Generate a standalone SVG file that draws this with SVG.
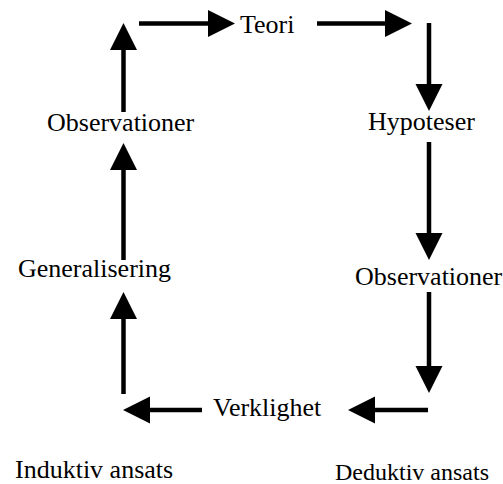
<svg xmlns="http://www.w3.org/2000/svg" width="503" height="484" viewBox="0 0 503 484">
  <style>
    .lbl { font-family: "Liberation Serif", "Times New Roman", serif; font-size: 26px; fill: #000; }
    .cap { font-family: "Liberation Serif", "Times New Roman", serif; fill: #000; }
    .arr { stroke: #000; stroke-width: 4.5; fill: none; marker-end: url(#head); }
  </style>
  <defs>
    <!-- solid triangular head; its base sits on the line end -->
    <marker id="head" markerUnits="userSpaceOnUse" markerWidth="28" markerHeight="28" refX="0" refY="13.5" orient="auto">
      <path d="M0,0 L27,13.5 L0,27 Z" fill="#000"/>
    </marker>
  </defs>
  <rect width="503" height="484" fill="#fff"/>

  <g id="connectors">
    <!-- left column, upward -->
    <line class="arr" x1="123.5" y1="394" x2="123.5" y2="319"/>
    <line class="arr" x1="123.5" y1="260" x2="123.5" y2="170"/>
    <line class="arr" x1="123.5" y1="112" x2="123.5" y2="50"/>
    <!-- top row, rightward -->
    <line class="arr" x1="139" y1="23.5" x2="208" y2="23.5"/>
    <line class="arr" x1="317" y1="23.5" x2="385" y2="23.5"/>
    <!-- right column, downward -->
    <line class="arr" x1="429" y1="23" x2="429" y2="84"/>
    <line class="arr" x1="429" y1="142" x2="429" y2="233"/>
    <line class="arr" x1="429" y1="292" x2="429" y2="366"/>
    <!-- bottom row, leftward -->
    <line class="arr" x1="428" y1="410" x2="375" y2="410"/>
    <line class="arr" x1="202" y1="410" x2="150" y2="410"/>
  </g>

  <g id="teori"><text class="lbl" x="240" y="33">Teori</text></g>
  <g id="hypoteser"><text class="lbl" x="368" y="130">Hypoteser</text></g>
  <g id="observationer-deduktiv"><text class="lbl" x="355" y="285">Observationer</text></g>
  <g id="verklighet"><text class="lbl" x="213" y="416">Verklighet</text></g>
  <g id="generalisering"><text class="lbl" x="18" y="277">Generalisering</text></g>
  <g id="observationer-induktiv"><text class="lbl" x="47" y="131">Observationer</text></g>

  <g id="induktiv"><text class="cap" x="15" y="478" font-size="26">Induktiv ansats</text></g>
  <g id="deduktiv"><text class="cap" x="335" y="480" font-size="24">Deduktiv ansats</text></g>
</svg>
